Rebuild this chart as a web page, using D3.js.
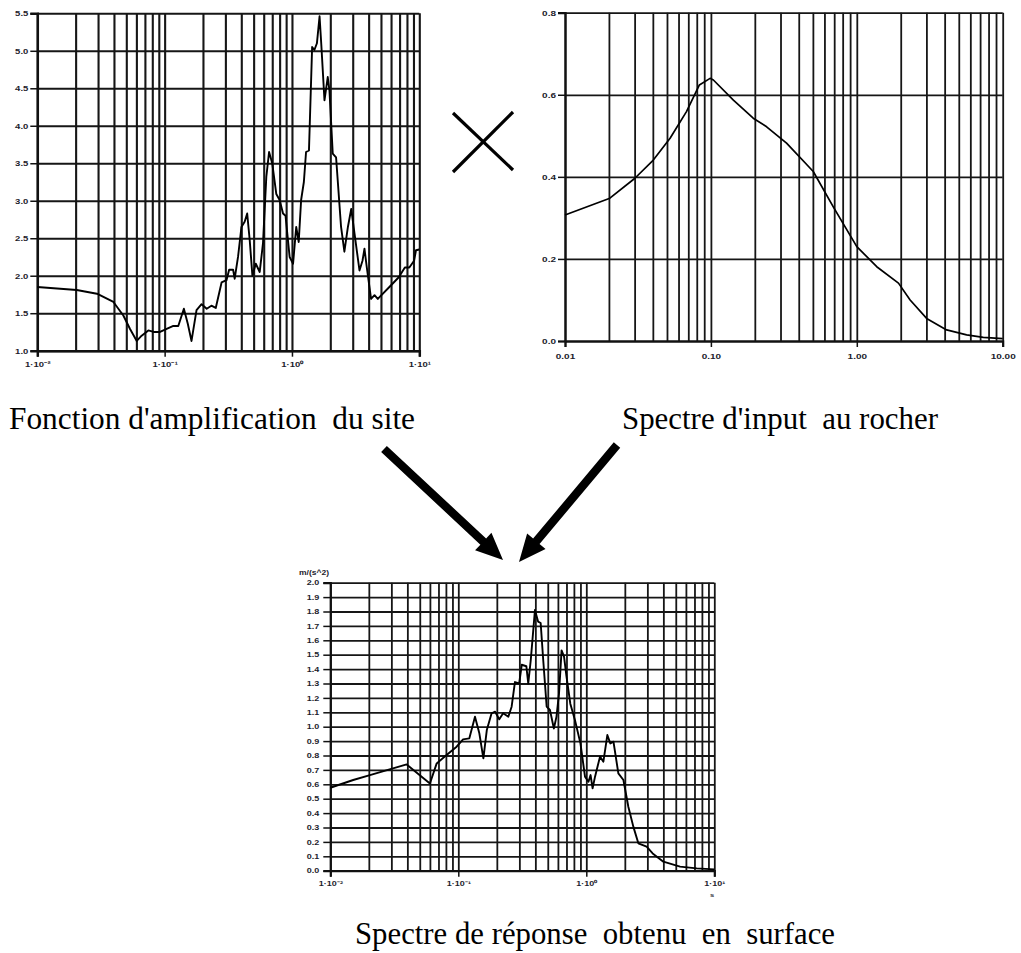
<!DOCTYPE html>
<html>
<head>
<meta charset="utf-8">
<script src="https://cdn.jsdelivr.net/npm/d3@7"></script>
<style>
  html, body { margin: 0; padding: 0; background: #fff; }
  svg { display: block; }
  .tick-label {
    font-family: "Liberation Sans", Arial, sans-serif; font-weight: bold; fill: #1c1c2c;
    transform-box: fill-box; transform-origin: center; transform: scaleY(0.78);
  }
  .caption { font-family: "Liberation Serif", "Times New Roman", serif; fill: #000; }
</style>
</head>
<body>
<svg id="fig" width="1021" height="953"></svg>
<script>
// Site amplification function (period in s, amplification factor)
const ampPeriod = [0.01, 0.0204, 0.0294, 0.0396, 0.0474, 0.0535, 0.0604, 0.066, 0.0745, 0.082, 0.092,
  0.1037, 0.117, 0.128, 0.1416, 0.152, 0.1626, 0.178, 0.195, 0.214, 0.233, 0.252, 0.280, 0.306, 0.321,
  0.345, 0.355, 0.377, 0.401, 0.425, 0.445, 0.466, 0.489, 0.52, 0.558, 0.592, 0.629, 0.661, 0.70, 0.753,
  0.80, 0.851, 0.89, 0.959, 1.02, 1.08, 1.13, 1.18, 1.24, 1.29, 1.36, 1.44, 1.50, 1.57, 1.647, 1.70,
  1.80, 1.91, 1.97, 2.09, 2.22, 2.43, 2.58, 2.75, 2.92, 3.10, 3.39, 3.58, 3.71, 3.87, 4.06, 4.18, 4.45,
  4.72, 5.82, 6.9, 7.7, 8.35, 9.1, 9.42, 10];
const ampValue = [1.85, 1.81, 1.76, 1.65, 1.47, 1.29, 1.13, 1.20, 1.27, 1.25, 1.25,
  1.29, 1.33, 1.33, 1.56, 1.36, 1.13, 1.54, 1.62, 1.56, 1.60, 1.57, 1.91, 1.94, 2.08,
  2.08, 1.96, 2.25, 2.65, 2.72, 2.83, 2.47, 2.00, 2.16, 2.05, 2.43, 3.32, 3.65, 3.50, 3.09,
  3.01, 2.83, 2.80, 2.25, 2.16, 2.65, 2.45, 3.01, 3.25, 3.65, 3.67, 5.05, 5.01, 5.10, 5.46, 5.08,
  4.34, 4.65, 4.47, 3.63, 3.58, 2.65, 2.32, 2.65, 2.89, 2.56, 2.07, 2.20, 2.36, 2.11, 1.85, 1.69, 1.74,
  1.69, 1.85, 1.98, 2.11, 2.11, 2.20, 2.34, 2.35];

// Rock input spectrum (period in s, spectral acceleration)
const rockPeriod = [0.01, 0.0203, 0.030, 0.0403, 0.0525, 0.068, 0.0834, 0.0987, 0.104, 0.1426, 0.195,
  0.241, 0.330, 0.503, 0.69, 1.0, 1.37, 1.93, 2.32, 3.01, 4.13, 5.66, 7.36, 10];
const rockValue = [0.307, 0.348, 0.396, 0.441, 0.494, 0.559, 0.624, 0.640, 0.636, 0.587, 0.543,
  0.522, 0.482, 0.413, 0.327, 0.230, 0.181, 0.141, 0.100, 0.055, 0.027, 0.015, 0.009, 0.006];

// Surface response spectrum (period in s, spectral acceleration)
const surfPeriod = [0.01, 0.0151, 0.0204, 0.0395, 0.060, 0.0678, 0.081, 0.097, 0.109, 0.122, 0.135,
  0.146, 0.157, 0.167, 0.182, 0.194, 0.209, 0.224, 0.246, 0.261, 0.277, 0.299, 0.313, 0.340, 0.352,
  0.368, 0.397, 0.420, 0.440, 0.461, 0.49, 0.52, 0.558, 0.585, 0.612, 0.641, 0.67, 0.70, 0.75,
  0.815, 0.90, 0.977, 1.04, 1.08, 1.12, 1.17, 1.28, 1.36, 1.46, 1.54, 1.63, 1.78, 1.95, 2.13,
  2.33, 2.55, 2.96, 3.3, 4.0, 5.4, 7.3, 10];
const surfValue = [0.576, 0.63, 0.664, 0.738, 0.606, 0.745, 0.803, 0.861, 0.912, 0.919, 1.069,
  0.954, 0.78, 0.977, 1.093, 1.104, 1.051, 1.093, 1.069, 1.139, 1.31, 1.30, 1.43, 1.42, 1.30,
  1.46, 1.81, 1.73, 1.72, 1.46, 1.14, 1.116, 0.988, 1.07, 1.23, 1.53, 1.486, 1.35, 1.16,
  1.046, 0.884, 0.653, 0.618, 0.664, 0.572, 0.653, 0.792, 0.757, 0.942, 0.884, 0.896, 0.676, 0.63, 0.444,
  0.306, 0.19, 0.167, 0.12, 0.0625, 0.028, 0.016, 0.009];

// Tick labels
const ampXLabels = ["1·10⁻²", "1·10⁻¹", "1·10⁰", "1·10¹"];
const ampYTicks = [1.0, 1.5, 2.0, 2.5, 3.0, 3.5, 4.0, 4.5, 5.0, 5.5];
const rockXLabels = ["0.01", "0.10", "1.00", "10.00"];
const rockYTicks = [0.0, 0.2, 0.4, 0.6, 0.8];
const surfXLabels = ["1·10⁻²", "1·10⁻¹", "1·10⁰", "1·10¹"];
const surfYTicks = d3.range(0, 21).map(i => i / 10);
const decades = [0.01, 0.1, 1, 10];

// Captions
const captionAmp = "Fonction d'amplification  du site";
const captionRock = "Spectre d'input  au rocher";
const captionSurf = "Spectre de réponse  obtenu  en  surface";

const svg = d3.select("#fig");

// every 1..9 multiple within [0.01, 10]
const logGrid = [];
[0.01, 0.1, 1].forEach(d => { for (let k = 1; k <= 9; k++) logGrid.push(d * k); });
logGrid.push(10);

function panel(opt) {
  const x = d3.scaleLog().domain([0.01, 10]).range([opt.left, opt.right]);
  const y = d3.scaleLinear().domain(opt.yDomain).range([opt.bottom, opt.top]);
  const g = svg.append("g");
  const h = opt.bottom - opt.top, w = opt.right - opt.left;

  // vertical grid lines
  g.append("g")
    .attr("transform", `translate(0,${opt.bottom})`)
    .call(d3.axisBottom(x).tickValues(logGrid).tickSize(-h).tickFormat(""))
    .call(s => s.select(".domain").remove())
    .call(s => s.selectAll("line").attr("stroke", "#161616").attr("stroke-width", opt.grid));

  // horizontal grid lines
  g.append("g")
    .attr("transform", `translate(${opt.left},0)`)
    .call(d3.axisLeft(y).tickValues(opt.yTicks).tickSize(-w).tickFormat(""))
    .call(s => s.select(".domain").remove())
    .call(s => s.selectAll("line").attr("stroke", "#161616").attr("stroke-width", opt.grid));

  // y axis with ticks and labels
  g.append("g")
    .attr("transform", `translate(${opt.left},0)`)
    .call(d3.axisLeft(y).tickValues(opt.yTicks).tickSize(7).tickPadding(opt.yPad).tickFormat(d3.format(".1f")))
    .call(s => s.select(".domain").attr("stroke", "#111").attr("stroke-width", opt.grid + 0.4))
    .call(s => s.selectAll("line").attr("stroke", "#111").attr("stroke-width", 1.5))
    .call(s => s.selectAll("text").attr("class", "tick-label").style("font-size", opt.fs + "px"));

  // x axis with decade labels
  g.append("g")
    .attr("transform", `translate(0,${opt.bottom})`)
    .call(d3.axisBottom(x).tickValues(decades).tickSize(6).tickPadding(opt.xPad)
      .tickFormat((d, i) => opt.xLabels[i]))
    .call(s => s.select(".domain").attr("stroke", "#111").attr("stroke-width", opt.grid + 0.4))
    .call(s => s.selectAll("line").attr("stroke", "#111").attr("stroke-width", 1.5))
    .call(s => s.selectAll("text").attr("class", "tick-label").style("font-size", opt.fs + "px"));

  // curve
  const line = d3.line().x(d => x(d[0])).y(d => y(d[1]));
  g.append("path")
    .datum(d3.zip(opt.xs, opt.ys))
    .attr("d", line)
    .attr("fill", "none")
    .attr("stroke", "#000")
    .attr("stroke-width", opt.lw)
    .attr("stroke-linejoin", "round");
  return { x, y, g };
}

panel({ left: 37.3, right: 419.3, top: 13.3, bottom: 350.7, yDomain: [1.0, 5.5],
  yTicks: ampYTicks, xLabels: ampXLabels, xs: ampPeriod, ys: ampValue,
  grid: 2.1, lw: 1.9, fs: 9.5, yPad: 2, xPad: 4 });

panel({ left: 565, right: 1002.7, top: 12.7, bottom: 341, yDomain: [0, 0.8],
  yTicks: rockYTicks, xLabels: rockXLabels, xs: rockPeriod, ys: rockValue,
  grid: 1.8, lw: 1.7, fs: 10, yPad: 2, xPad: 6 });

panel({ left: 330.3, right: 714.3, top: 582.7, bottom: 870.7, yDomain: [0, 2.0],
  yTicks: surfYTicks, xLabels: surfXLabels, xs: surfPeriod, ys: surfValue,
  grid: 1.8, lw: 1.9, fs: 9, yPad: 4, xPad: 4 });

// unit labels of the surface spectrum
svg.append("text").attr("class", "tick-label").style("font-size", "8.5px")
  .attr("x", 314).attr("y", 576).attr("text-anchor", "middle").text("m/(s^2)");
svg.append("text").attr("class", "tick-label").style("font-size", "7.5px")
  .attr("x", 712).attr("y", 898).attr("text-anchor", "middle").text("s");

// multiplication sign between the two upper charts
const cross = svg.append("g").attr("stroke", "#000").attr("stroke-width", 3.2).attr("stroke-linecap", "butt");
cross.append("line").attr("x1", 453).attr("y1", 113).attr("x2", 513).attr("y2", 170);
cross.append("line").attr("x1", 453).attr("y1", 172).attr("x2", 513).attr("y2", 112);

// arrows converging on the surface spectrum
function arrow(x1, y1, x2, y2) {
  const dx = x2 - x1, dy = y2 - y1, len = Math.hypot(dx, dy);
  const ux = dx / len, uy = dy / len, px = -uy, py = ux;
  const headLen = 27, headHalf = 12, shaft = 4.2;
  const bx = x2 - ux * headLen, by = y2 - uy * headLen;
  const pts = [
    [x1 + px * shaft, y1 + py * shaft],
    [bx + px * shaft, by + py * shaft],
    [bx + px * headHalf, by + py * headHalf],
    [x2, y2],
    [bx - px * headHalf, by - py * headHalf],
    [bx - px * shaft, by - py * shaft],
    [x1 - px * shaft, y1 - py * shaft]
  ];
  svg.append("path").attr("d", d3.line()(pts) + "Z").attr("fill", "#000");
}
arrow(384, 449, 503, 560);
arrow(617, 445, 519, 562);

// captions
function caption(txt, x, y, width) {
  svg.append("text").attr("class", "caption")
    .attr("x", x).attr("y", y)
    .attr("font-size", 31)
    .attr("textLength", width).attr("lengthAdjust", "spacingAndGlyphs")
    .style("white-space", "pre")
    .text(txt);
}
caption(captionAmp, 9, 429, 406);
caption(captionRock, 622, 429, 316);
caption(captionSurf, 355, 944, 480);
</script>
</body>
</html>
